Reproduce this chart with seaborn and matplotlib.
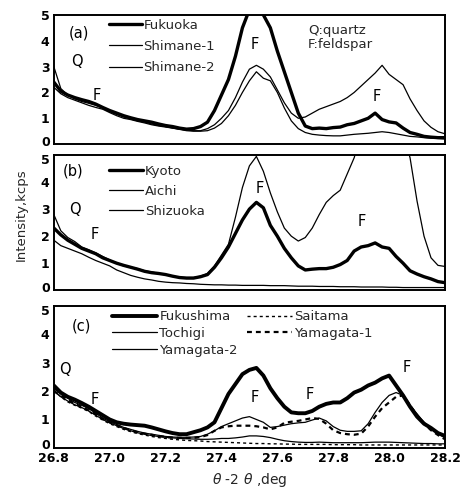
import numpy as np
import seaborn as sns
import matplotlib.pyplot as plt
from matplotlib.transforms import ScaledTranslation

# 2theta grid (deg), step 0.025
two_theta = np.round(np.arange(26.8, 28.2001, 0.025), 3)

# panel (a)
fukuoka = [2.4, 2.05, 1.9, 1.8, 1.72, 1.65, 1.55, 1.42, 1.3, 1.2, 1.1, 1.02, 0.95, 0.9, 0.85,
           0.78, 0.72, 0.68, 0.62, 0.58, 0.6, 0.68, 0.85, 1.3, 1.9, 2.5, 3.4, 4.5, 5.2, 5.4,
           5.0, 4.5, 3.6, 2.8, 2.0, 1.2, 0.7, 0.6, 0.62, 0.6, 0.64, 0.66, 0.75, 0.8, 0.9,
           1.0, 1.2, 0.95, 0.86, 0.82, 0.62, 0.45, 0.38, 0.3, 0.27, 0.25, 0.25]
shimane_1 = [3.0, 2.15, 1.9, 1.75, 1.65, 1.58, 1.5, 1.4, 1.25, 1.15, 1.05, 0.97, 0.9, 0.85, 0.78,
             0.72, 0.68, 0.62, 0.58, 0.55, 0.52, 0.52, 0.6, 0.75, 1.0, 1.3, 1.8, 2.4, 2.9, 3.05,
             2.9, 2.6, 2.1, 1.6, 1.2, 1.0, 1.05, 1.2, 1.35, 1.45, 1.55, 1.65, 1.8, 2.0, 2.25,
             2.5, 2.75, 3.05, 2.7, 2.5, 2.3, 1.75, 1.3, 0.9, 0.65, 0.48, 0.4]
shimane_2 = [2.2, 1.95, 1.8, 1.7, 1.6, 1.5, 1.42, 1.35, 1.22, 1.1, 1.0, 0.95, 0.88, 0.82, 0.75,
             0.7, 0.66, 0.62, 0.57, 0.52, 0.5, 0.5, 0.52, 0.62, 0.8, 1.1, 1.5, 2.0, 2.45, 2.8,
             2.55, 2.45, 2.0, 1.4, 0.9, 0.6, 0.45, 0.38, 0.35, 0.33, 0.32, 0.32, 0.35, 0.38, 0.4,
             0.42, 0.45, 0.48, 0.45, 0.4, 0.35, 0.3, 0.28, 0.25, 0.23, 0.22, 0.2]

# panel (b)
kyoto = [2.3, 2.05, 1.85, 1.7, 1.55, 1.45, 1.35, 1.2, 1.1, 1.0, 0.92, 0.85, 0.78, 0.7, 0.65,
         0.62, 0.58, 0.52, 0.47, 0.45, 0.45, 0.5, 0.58, 0.85, 1.2, 1.6, 2.1, 2.6, 3.0, 3.25,
         3.05, 2.4, 2.0, 1.55, 1.2, 0.9, 0.75, 0.78, 0.8, 0.8, 0.85, 0.95, 1.1, 1.45, 1.6,
         1.65, 1.75, 1.6, 1.55, 1.25, 1.0, 0.72, 0.6, 0.5, 0.42, 0.32, 0.28]
aichi = [2.8, 2.2, 1.95, 1.8, 1.6, 1.5, 1.38, 1.25, 1.12, 1.0, 0.9, 0.85, 0.8, 0.72, 0.68,
         0.62, 0.58, 0.52, 0.48, 0.47, 0.47, 0.52, 0.62, 0.9, 1.3, 1.7, 2.7, 3.8, 4.6, 4.95,
         4.4, 3.6, 2.9, 2.3, 2.0, 1.82, 1.95, 2.3, 2.8, 3.25, 3.5, 3.7, 4.3, 4.9, 5.8,
         6.5, 7.0, 7.2, 7.0, 6.5, 5.8, 4.9, 3.3, 2.0, 1.2, 0.92, 0.88]
shizuoka = [1.85, 1.65, 1.55, 1.45, 1.35, 1.22, 1.1, 1.0, 0.9, 0.75, 0.65, 0.55, 0.48, 0.42, 0.38,
            0.33, 0.3, 0.28, 0.27, 0.25, 0.24, 0.22, 0.21, 0.2, 0.2, 0.19, 0.19, 0.18, 0.18, 0.18,
            0.18, 0.17, 0.17, 0.17, 0.16, 0.15, 0.15, 0.15, 0.14, 0.14, 0.14, 0.13, 0.13, 0.13, 0.12,
            0.12, 0.12, 0.12, 0.11, 0.11, 0.1, 0.1, 0.1, 0.1, 0.1, 0.1, 0.1]

# panel (c)
fukushima = [2.2, 1.95, 1.8, 1.7, 1.58, 1.45, 1.3, 1.15, 1.0, 0.9, 0.85, 0.82, 0.8, 0.78, 0.72,
             0.65, 0.58, 0.52, 0.48, 0.48, 0.55, 0.62, 0.72, 0.9, 1.4, 1.9, 2.25, 2.6, 2.75, 2.82,
             2.55, 2.1, 1.75, 1.45, 1.25, 1.22, 1.22, 1.3, 1.45, 1.55, 1.6, 1.6, 1.75, 1.95, 2.05,
             2.2, 2.3, 2.45, 2.55, 2.2, 1.85, 1.45, 1.1, 0.85, 0.7, 0.52, 0.42]
tochigi = [2.1, 1.9, 1.75, 1.6, 1.5, 1.38, 1.22, 1.05, 0.92, 0.82, 0.72, 0.65, 0.58, 0.52, 0.48,
           0.44, 0.4, 0.38, 0.37, 0.37, 0.38, 0.4, 0.48, 0.6, 0.75, 0.85, 0.95, 1.05, 1.1, 1.0,
           0.9, 0.72, 0.75, 0.8, 0.85, 0.88, 0.9, 0.98, 1.05, 0.95, 0.75, 0.62, 0.58, 0.58, 0.6,
           0.85, 1.25, 1.6, 1.85, 1.95, 1.85, 1.5, 1.2, 0.9, 0.7, 0.5, 0.35]
yamagata_2 = [2.0, 1.8, 1.65, 1.52, 1.42, 1.3, 1.15, 1.0, 0.88, 0.78, 0.68, 0.6, 0.53, 0.48, 0.43,
              0.4, 0.37, 0.35, 0.33, 0.32, 0.31, 0.3, 0.3, 0.31, 0.33, 0.33, 0.35, 0.38, 0.42, 0.42,
              0.4, 0.36, 0.3, 0.25, 0.22, 0.2, 0.19, 0.19, 0.2, 0.19, 0.18, 0.18, 0.18, 0.18, 0.18,
              0.19, 0.2, 0.2, 0.2, 0.19, 0.18, 0.17, 0.16, 0.15, 0.15, 0.14, 0.14]
saitama = [2.05, 1.8, 1.62, 1.5, 1.4, 1.28, 1.12, 0.98, 0.85, 0.75, 0.65, 0.57, 0.5, 0.45, 0.4,
           0.36, 0.33, 0.3, 0.28, 0.26, 0.25, 0.24, 0.22, 0.21, 0.2, 0.19, 0.18, 0.17, 0.16, 0.15,
           0.15, 0.14, 0.14, 0.13, 0.13, 0.12, 0.12, 0.12, 0.12, 0.12, 0.11, 0.11, 0.11, 0.11, 0.1,
           0.1, 0.1, 0.1, 0.1, 0.1, 0.1, 0.1, 0.1, 0.1, 0.1, 0.1, 0.1]
yamagata_1 = [2.0, 1.85, 1.7, 1.55, 1.45, 1.32, 1.18, 1.02, 0.9, 0.8, 0.7, 0.62, 0.55, 0.5, 0.46,
              0.42, 0.38, 0.36, 0.35, 0.35, 0.35, 0.38, 0.45, 0.6, 0.72, 0.76, 0.78, 0.78, 0.78, 0.76,
              0.72, 0.65, 0.72, 0.88, 0.92, 0.95, 1.0, 1.05, 1.02, 0.85, 0.62, 0.52, 0.48, 0.46, 0.5,
              0.75, 1.1, 1.4, 1.6, 1.8, 1.85, 1.5, 1.15, 0.85, 0.62, 0.45, 0.3]

x_ticks = [26.8, 27.0, 27.2, 27.4, 27.6, 27.8, 28.0, 28.2]
y_ticks = [0, 1, 2, 3, 4, 5]

THICK = 2.4
THIN = 0.9

sns.set_theme(style="white")
plt.rcParams["font.family"] = ["DejaVu Sans"]
plt.rcParams["axes.edgecolor"] = "black"
plt.rcParams["axes.linewidth"] = 1.4

fig = plt.figure(figsize=(4.64, 4.97), dpi=100)
L, W = 0.116, 0.843
ax_a = fig.add_axes([L, 0.710, W, 0.260])
ax_b = fig.add_axes([L, 0.416, W, 0.272])
ax_c = fig.add_axes([L, 0.099, W, 0.285])

panels = [
    (ax_a, [("Fukuoka", fukuoka, THICK, "-"),
            ("Shimane-1", shimane_1, THIN, "-"),
            ("Shimane-2", shimane_2, THIN, "-")]),
    (ax_b, [("Kyoto", kyoto, THICK, "-"),
            ("Aichi", aichi, THIN, "-"),
            ("Shizuoka", shizuoka, THIN, "-")]),
    (ax_c, [("Fukushima", fukushima, THICK + 0.4, "-"),
            ("Tochigi", tochigi, THIN, "-"),
            ("Yamagata-2", yamagata_2, THIN, "-"),
            ("Saitama", saitama, 1.0, (0, (2.2, 2.2))),
            ("Yamagata-1", yamagata_1, 1.6, (0, (2.2, 1.8)))]),
]

for ax, series in panels:
    for name, vals, lw, ls in series:
        sns.lineplot(x=two_theta, y=vals, ax=ax, color="black", lw=lw,
                     linestyle=ls, label=name)
    ax.set_xlim(26.8, 28.2)
    ax.set_ylim(0, 5)
    ax.set_xticks(x_ticks)
    ax.set_yticks(y_ticks)
    ax.tick_params(direction="in", length=3, width=0.8, labelsize=9, pad=3,
                   colors="black")
    for lab in ax.get_yticklabels():
        lab.set_fontweight("bold")
    ax.set_xlabel("")
    ax.set_ylabel("")

for ax in (ax_a, ax_b):
    ax.tick_params(labelbottom=False)
for lab in ax_c.get_xticklabels():
    lab.set_fontweight("bold")

# nudge the stacked "0" / "5" labels between panels a little apart
up = ScaledTranslation(0, 2.5 / 72, fig.dpi_scale_trans)
down = ScaledTranslation(0, -2.5 / 72, fig.dpi_scale_trans)
for ax in (ax_a, ax_b, ax_c):
    labs = ax.get_yticklabels()
    labs[0].set_transform(labs[0].get_transform() + up)
for ax in (ax_b, ax_c):
    labs = ax.get_yticklabels()
    labs[-1].set_transform(labs[-1].get_transform() + down)

leg_kw = dict(frameon=False, fontsize=9.5, handletextpad=0.15, borderpad=0,
              borderaxespad=0, loc="upper left")
ax_a.legend(bbox_to_anchor=(0.14, 0.97), handlelength=2.5, labelspacing=0.62, **leg_kw)
ax_b.legend(bbox_to_anchor=(0.14, 0.93), handlelength=2.6, labelspacing=0.55, **leg_kw)
ax_c.legend(bbox_to_anchor=(0.15, 0.97), handlelength=3.4, labelspacing=0.28,
            ncol=2, columnspacing=0.7, **leg_kw)

txt = dict(fontsize=10.5, ha="center", va="center", color="black")
ax_a.text(26.89, 4.3, "(a)", **txt)
ax_a.text(26.882, 3.18, "Q", **txt)
ax_a.text(26.954, 1.9, "F", **txt)
ax_a.text(27.52, 3.84, "F", **txt)
ax_a.text(27.957, 1.83, "F", **txt)
ax_a.text(27.71, 4.4, "Q:quartz", fontsize=9.5, ha="left", va="center")
ax_a.text(27.71, 3.85, "F:feldspar", fontsize=9.5, ha="left", va="center")

ax_b.text(26.868, 4.4, "(b)", **txt)
ax_b.text(26.875, 3.0, "Q", **txt)
ax_b.text(26.947, 2.07, "F", **txt)
ax_b.text(27.538, 3.76, "F", **txt)
ax_b.text(27.902, 2.56, "F", **txt)

ax_c.text(26.9, 4.29, "(c)", **txt)
ax_c.text(26.84, 2.77, "Q", **txt)
ax_c.text(26.947, 1.7, "F", **txt)
ax_c.text(27.52, 1.77, "F", **txt)
ax_c.text(27.717, 1.88, "F", **txt)
ax_c.text(28.064, 2.84, "F", **txt)

ax_c.set_xlabel(r"$\theta$ -2 $\theta$ ,deg", fontsize=10, labelpad=4)
fig.text(0.045, 1 - 215 / 497, "Intensity,kcps", rotation=90, fontsize=9.5,
         ha="center", va="center")

fig.savefig("out.png", dpi=100)
